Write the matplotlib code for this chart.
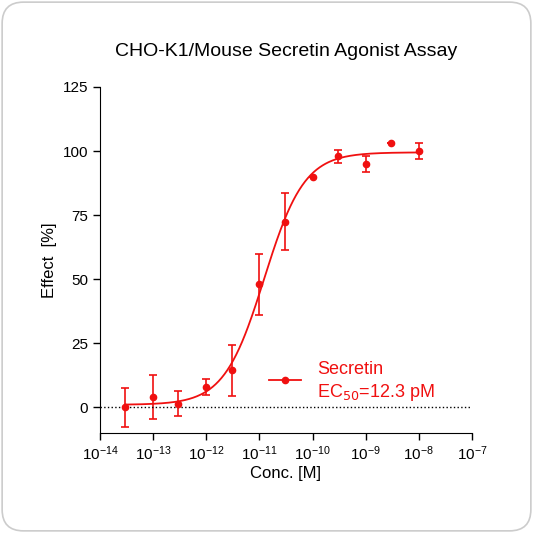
import numpy as np
import matplotlib
matplotlib.use('Agg')
from matplotlib import pyplot as plt
from matplotlib.patches import FancyBboxPatch

plt.rcParams['font.family'] = ['Liberation Sans', 'DejaVu Sans']

conc = [3e-14, 1e-13, 3e-13, 1e-12, 3e-12, 1e-11, 3e-11, 1e-10, 3e-10, 1e-9, 3e-9, 1e-8]
effect = [0, 4, 1.5, 8, 14.5, 48, 72.5, 90, 98, 95, 103, 100]
err = [7.5, 8.5, 5, 3, 10, 12, 11, 0, 2.5, 3, 0, 3]

# fitted 4PL parameters
bottom, top, ec50, hill = 1.0, 99.5, 12.3e-12, 1.15

red = '#f01010'
fig = plt.figure(figsize=(5.33, 5.33), dpi=100)
box = FancyBboxPatch((0.004, 0.004), 0.992, 0.992, boxstyle='round,pad=0,rounding_size=0.04',
                     transform=fig.transFigure, facecolor='white', edgecolor='#cccccc', lw=1.2, zorder=-10)
fig.patches.append(box)
ax = fig.add_axes([100/533, 1-433/533, 372/533, 346/533])
ax.set_facecolor('none')
ax.set_zorder(5)

xs = np.logspace(np.log10(3e-14), -8, 300)
ys = bottom + (top - bottom) / (1 + (ec50 / xs) ** hill)
ax.plot(xs, ys, color=red, lw=1.3)
ax.errorbar(conc, effect, yerr=err, fmt='o', color=red, ms=4.5, capsize=3, elinewidth=1.2, capthick=1.2)
ax.plot([1e-14, 1e-7], [0, 0], ls=':', color='black', lw=1)

ax.set_xscale('log')
ax.set_xlim(1e-14, 1e-7)
ax.set_ylim(-10, 125)
ax.set_yticks([0, 25, 50, 75, 100, 125])
ax.set_xticks([10.0**k for k in range(-14, -6)])
ax.xaxis.set_minor_locator(matplotlib.ticker.NullLocator())
ax.spines['top'].set_visible(False)
ax.spines['right'].set_visible(False)
ax.tick_params(labelsize=11, width=1, length=5)
ax.set_xlabel('Conc. [M]', fontsize=12, labelpad=2)
ax.set_ylabel('Effect  [%]', fontsize=12)
ax.set_title('CHO-K1/Mouse Secretin Agonist Assay', fontsize=14, pad=22)

ax.plot([1.5e-11, 6e-11], [10.5, 10.5], color=red, lw=1.3)
ax.plot([3e-11], [10.5], 'o', color=red, ms=4.5)
ax.text(1.2e-10, 11.5, 'Secretin', color=red, fontsize=13, va='bottom')
ax.text(1.2e-10, 10, 'EC$_{50}$=12.3 pM', color=red, fontsize=13, va='top')

fig.savefig('out.png', dpi=100)
